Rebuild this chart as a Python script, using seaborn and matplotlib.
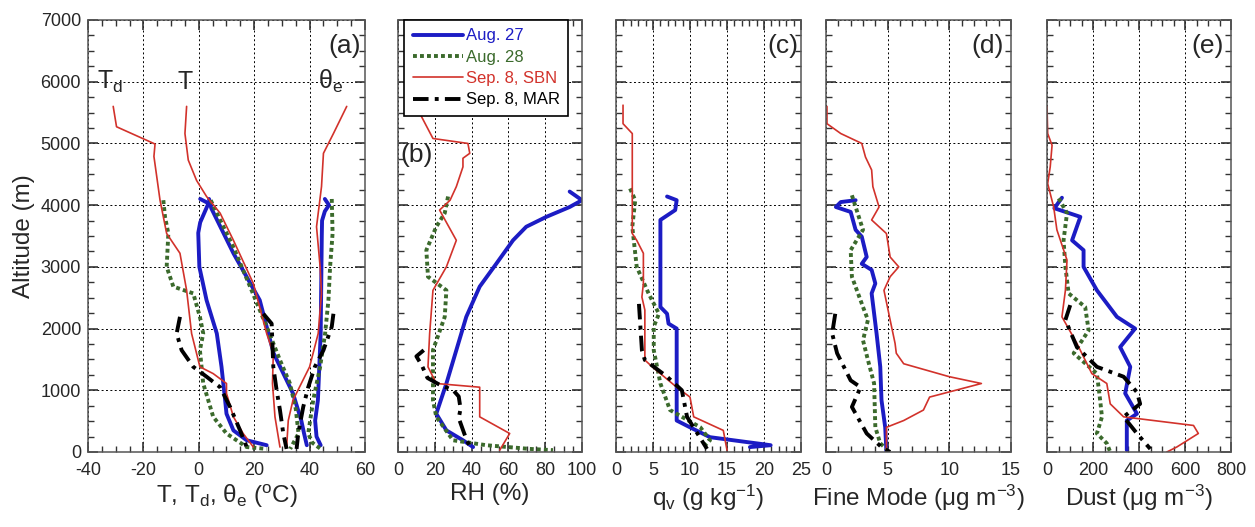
import matplotlib
matplotlib.use('Agg')
import matplotlib.pyplot as plt
import seaborn as sns
from matplotlib.ticker import MultipleLocator

# ---- data: (value, altitude) ----
# panel (a) temperatures
td_aug27 = [0.5, 3.5, 0.5, -0.2, 0.2, 2.8, 6.5, 8.2, 9.5, 10, 12.5, 17.3, 24.5]
td_aug27_alt = [4100, 4030, 3720, 3550, 3000, 2460, 1920, 1380, 840, 620, 350, 190, 110]
t_aug27 = [3.7, 4.5, 12.5, 22, 27, 34, 37, 38, 39]
t_aug27_alt = [4100, 3950, 3220, 2460, 1600, 950, 510, 300, 110]
te_aug27 = [45.5, 47, 45.5, 44.5, 44.4, 44, 43, 42, 42.5, 44]
te_aug27_alt = [4100, 4000, 3900, 3750, 3500, 1920, 840, 510, 250, 110]

td_aug28 = [-12.8, -12.2, -11, -11.6, -9.2, -2, 0.4, 1.6, 0.4, 1.6, 5.2, 10, 17.3, 24.5]
td_aug28_alt = [4080, 3810, 3540, 3000, 2680, 2570, 2190, 1920, 1650, 1110, 570, 300, 80, 50]
t_aug28 = [4.3, 7.7, 12.5, 18.5, 24.5, 29.3, 32.9, 35, 36, 33]
t_aug28_alt = [4080, 3760, 3320, 2680, 2030, 1490, 1110, 700, 300, 50]
te_aug28 = [48, 48.3, 47.4, 46.8, 45.6, 43.8, 41.3, 39.5, 41, 44]
te_aug28_alt = [4100, 3540, 3000, 2460, 1920, 1380, 840, 300, 150, 50]

td_sbn = [-30.9, -29.7, -15.8, -16.2, -14, -11.6, -6.8, -4.4, -2.6, 0.4, 5.2, 10, 10, 12.5, 16, 19.7]
td_sbn_alt = [5600, 5270, 4990, 4790, 4080, 3540, 3220, 2620, 1920, 1380, 1270, 1110, 950, 570, 300, 80]
t_sbn = [-4.4, -5, -3.8, -0.8, 2.8, 7.7, 12.5, 19.7, 24.5, 26.9, 26.6, 27.5, 29.3]
t_sbn_alt = [5600, 5160, 4730, 4400, 4140, 3870, 3430, 2730, 1920, 1600, 1110, 570, 80]
te_sbn = [53.4, 48.6, 45, 44.3, 42.5, 43.8, 44.3, 43.1, 40, 34, 32.3, 31.7]
te_sbn_alt = [5600, 5160, 4840, 4300, 3650, 3000, 2570, 1920, 1380, 840, 510, 80]

td_mar = [-6.8, -8, -6.2, -2, 2.8, 7.7, 11.3, 14.9, 17.3]
td_mar_alt = [2190, 1920, 1650, 1380, 1220, 1050, 730, 350, 80]
t_mar = [23.3, 26.3, 26.9, 28.1, 29.3, 30.5, 31.7]
t_mar_alt = [2240, 2080, 1380, 1000, 680, 300, 50]
te_mar = [48.6, 48, 45, 41.9, 39.5, 37.7, 35.9, 35.3]
te_mar_alt = [2240, 2030, 1650, 1380, 1050, 730, 300, 50]

# panel (b) RH
rh_aug27 = [93.3, 100, 93.3, 80.6, 69.7, 62.5, 53.4, 44.4, 37.1, 31.7, 26.3, 20.8, 26.3, 35.3, 40.8]
rh_aug27_alt = [4220, 4080, 3970, 3810, 3650, 3430, 3050, 2680, 2190, 1650, 1110, 620, 350, 190, 80]
rh_aug28 = [27.2, 25.4, 20.8, 15.4, 16.3, 26.3, 25.4, 19, 19, 20.8, 29.9, 48, 71.6, 84.2]
rh_aug28_alt = [4140, 3870, 3650, 3270, 2840, 2620, 2190, 1650, 840, 570, 190, 110, 50, 30]
rh_sbn = [11.8, 11.8, 19, 38, 39, 35.3, 35.3, 31.7, 28.3, 22.6, 31.7, 26.3, 19, 17.2, 16.3, 20.8,
          44.4, 44.4, 60.7, 55.3]
rh_sbn_alt = [5600, 5490, 5080, 5000, 4840, 4760, 4620, 4300, 4080, 3920, 3430, 3000, 2620, 1920,
              1380, 1110, 1050, 570, 300, 30]
rh_mar = [14, 10, 13, 16, 22, 30, 33, 34, 33, 36, 38, 40]
rh_mar_alt = [1650, 1550, 1400, 1200, 1100, 1000, 900, 700, 550, 300, 150, 50]

# panel (c) qv
qv_aug27 = [6.9, 8.2, 8, 6, 6, 6.9, 7.1, 8.2, 8.2, 10, 12.7, 20.9, 18.1]
qv_aug27_alt = [4140, 4080, 3920, 3760, 2350, 2240, 2080, 2000, 510, 400, 240, 110, 80]
qv_aug28 = [1.9, 2.6, 2.2, 2.8, 4.4, 5.8, 5.1, 5.1, 6, 7.3, 11.4, 12.7, 11.8]
qv_aug28_alt = [4270, 4080, 3650, 3000, 2570, 2240, 2030, 1650, 1110, 680, 400, 190, 80]
qv_sbn = [0.95, 0.95, 2.2, 2.2, 2.8, 3.7, 3.7, 3.5, 3.9, 3.9, 4.9, 8.2, 10, 10.5, 14.5, 15]
qv_sbn_alt = [5620, 5320, 5160, 3540, 3430, 3220, 2730, 2510, 2300, 1490, 1380, 1050, 890, 570, 350, 30]
qv_mar = [3.1, 3.5, 3.9, 6.9, 8.9, 9.6, 11, 12.3]
qv_mar_alt = [2400, 1650, 1490, 1220, 1000, 570, 300, 50]

# panel (d) fine mode
fm_aug27 = [2.4, 1.2, 0.8, 2, 2.4, 2.9, 3.3, 2.9, 3.7, 4, 3.7, 4.1, 4.4, 4.5, 4.8, 4.9]
fm_aug27_alt = [4080, 4050, 3970, 3890, 3600, 3490, 3160, 3050, 2950, 2730, 2570, 1920, 1380, 840, 400, 0]
fm_aug28 = [2.1, 3, 2, 2.1, 3, 3.4, 3, 3.4, 3.9, 4, 4.4, 4.9]
fm_aug28_alt = [4160, 3600, 3270, 2840, 2350, 2140, 1810, 1490, 1110, 400, 140, 50]
fm_sbn = [0.08, 0.08, 1.2, 2.9, 3.2, 3.7, 3.8, 4.3, 3.7, 4.9, 5.2, 5.9, 5.2, 4.7, 5.2, 5.6, 5.7,
          6.3, 10, 12.6, 8.4, 7.9, 6.3, 4.9, 4.9]
fm_sbn_alt = [5600, 5320, 5160, 5000, 4780, 4570, 4300, 3970, 3760, 3540, 3160, 3000, 2840, 2620,
              2140, 1760, 1600, 1430, 1220, 1110, 890, 680, 510, 400, 0]
fm_mar = [0.75, 0.5, 0.9, 2, 2.8, 2.1, 3.3, 4.5, 5.2]
fm_mar_alt = [2240, 1920, 1600, 1160, 1050, 730, 300, 80, 0]

# panel (e) dust
du_aug27 = [65, 32, 145, 109, 159, 159, 217, 304, 383, 318, 362, 340, 391, 347, 347]
du_aug27_alt = [4120, 3950, 3810, 3430, 3270, 3000, 2620, 2190, 2000, 1700, 1380, 950, 620, 510, 30]
du_aug28 = [51, 87, 72, 80, 94, 166, 181, 116, 217, 231, 239, 217, 260, 275]
du_aug28_alt = [4110, 3870, 3430, 3000, 2570, 2350, 1970, 1600, 1270, 840, 570, 300, 140, 0]
du_sbn = [0, 3, 22, 14, 3, 29, 43, 87, 80, 65, 130, 195, 260, 275, 333, 637, 658, 564, 521]
du_sbn_alt = [5600, 5160, 4970, 4620, 4350, 3970, 3600, 3110, 2620, 2190, 1760, 1270, 1110, 780,
              570, 430, 300, 80, 0]
du_mar = [101, 80, 130, 217, 333, 391, 405, 333, 391, 449]
du_mar_alt = [2380, 2140, 1700, 1380, 1220, 970, 780, 570, 300, 50]

case_names = ["Aug. 27", "Aug. 28", "Sep. 8, SBN", "Sep. 8, MAR"]

# line styles per flight
STYLES = {
    "Aug. 27": dict(color="#1c1cc4", linewidth=2.8, linestyle="-"),
    "Aug. 28": dict(color="#3b6a2c", linewidth=2.8, linestyle=(0, (1, 0.8))),
    "Sep. 8, SBN": dict(color="#d2322b", linewidth=1.2, linestyle="-"),
    "Sep. 8, MAR": dict(color="black", linewidth=2.8, linestyle=(0, (4, 1.6, 1, 1.6))),
}

sns.set_style("ticks")
plt.rcParams['font.family'] = ['Liberation Sans', 'DejaVu Sans']
plt.rcParams['mathtext.fontset'] = 'custom'
plt.rcParams['mathtext.rm'] = 'Liberation Sans'
plt.rcParams['mathtext.it'] = 'Liberation Sans:italic'
plt.rcParams['axes.unicode_minus'] = False

fig = plt.figure(figsize=(12.55, 5.27), dpi=100)
W, H = 1255.0, 527.0
top_px, bot_px = 20, 452
lefts = [(88, 365), (398, 582), (616, 801), (826, 1011), (1047, 1231)]
axes = [fig.add_axes([l / W, (H - bot_px) / H, (r - l) / W, (bot_px - top_px) / H]) for l, r in lefts]


def draw(ax, x, y, name, label=None):
    sns.lineplot(x=x, y=y, sort=False, estimator=None, ax=ax, label=label, legend=False,
                 **STYLES[name])


def style_axis(ax, xlim, major, minor, xlabel, letter, letter_pos):
    ax.set_xlim(*xlim)
    ax.set_ylim(0, 7000)
    ax.xaxis.set_major_locator(MultipleLocator(major))
    ax.xaxis.set_minor_locator(MultipleLocator(minor))
    ax.yaxis.set_major_locator(MultipleLocator(1000))
    ax.yaxis.set_minor_locator(MultipleLocator(250))
    ax.grid(True, which='major', color='black', linestyle=(0, (2, 2.5)), linewidth=0.7)
    ax.set_axisbelow(True)
    ax.tick_params(which='both', direction='in', top=True, right=True, bottom=True, left=True,
                   labelsize=13, color='#333333')
    ax.tick_params(which='major', length=7, width=1.2)
    ax.tick_params(which='minor', length=4, width=1.0)
    ax.tick_params(axis='x', which='major', pad=7)
    ax.tick_params(axis='y', which='major', pad=5)
    for sp in ax.spines.values():
        sp.set_color('#555555')
        sp.set_linewidth(1.1)
    ax.set_xlabel(xlabel, fontsize=17.5, labelpad=3)
    ax.set_ylabel("")
    ax.text(letter_pos[0], letter_pos[1], letter, transform=ax.transAxes,
            ha=letter_pos[2], va='center', fontsize=19)


ax = axes[0]
for name, td, tda, t, ta, te, tea in [
    ("Aug. 27", td_aug27, td_aug27_alt, t_aug27, t_aug27_alt, te_aug27, te_aug27_alt),
    ("Aug. 28", td_aug28, td_aug28_alt, t_aug28, t_aug28_alt, te_aug28, te_aug28_alt),
    ("Sep. 8, SBN", td_sbn, td_sbn_alt, t_sbn, t_sbn_alt, te_sbn, te_sbn_alt),
    ("Sep. 8, MAR", td_mar, td_mar_alt, t_mar, t_mar_alt, te_mar, te_mar_alt),
]:
    draw(ax, td, tda, name)
    draw(ax, t, ta, name)
    draw(ax, te, tea, name)
style_axis(ax, (-40, 60), 20, 5, r"T, T$_{\rm d}$, θ$_{\rm e}$ ($^{\rm o}$C)", "(a)", (0.985, 0.94, 'right'))
ax.set_ylabel("Altitude (m)", fontsize=17.5, labelpad=4)
ax.text(-32, 6000, r"T$_{\rm d}$", fontsize=18, ha='center', va='center')
ax.text(-5, 6000, "T", fontsize=18, ha='center', va='center')
ax.text(47.5, 6000, r"θ$_{\rm e}$", fontsize=18, ha='center', va='center')

ax = axes[1]
for name, x, y in zip(case_names, [rh_aug27, rh_aug28, rh_sbn, rh_mar],
                      [rh_aug27_alt, rh_aug28_alt, rh_sbn_alt, rh_mar_alt]):
    draw(ax, x, y, name, label=name)
style_axis(ax, (0, 100), 20, 5, "RH (%)", "(b)", (0.015, 0.687, 'left'))
leg = ax.legend(loc='upper left', bbox_to_anchor=(0.035, 1.0), fontsize=12, frameon=True,
                fancybox=False, framealpha=1, edgecolor='black', handlelength=3.0,
                handletextpad=0.2, labelspacing=0.38, borderpad=0.5, borderaxespad=0,
                labelcolor=[STYLES[n]["color"] for n in case_names])
leg.get_frame().set_linewidth(1.2)

ax = axes[2]
for name, x, y in zip(case_names, [qv_aug27, qv_aug28, qv_sbn, qv_mar],
                      [qv_aug27_alt, qv_aug28_alt, qv_sbn_alt, qv_mar_alt]):
    draw(ax, x, y, name)
style_axis(ax, (0, 25), 5, 1, r"q$_{\rm v}$ (g kg$^{-1}$)", "(c)", (0.985, 0.94, 'right'))

ax = axes[3]
for name, x, y in zip(case_names, [fm_aug27, fm_aug28, fm_sbn, fm_mar],
                      [fm_aug27_alt, fm_aug28_alt, fm_sbn_alt, fm_mar_alt]):
    draw(ax, x, y, name)
style_axis(ax, (0, 15), 5, 1, r"Fine Mode (μg m$^{-3}$)", "(d)", (0.96, 0.94, 'right'))

ax = axes[4]
for name, x, y in zip(case_names, [du_aug27, du_aug28, du_sbn, du_mar],
                      [du_aug27_alt, du_aug28_alt, du_sbn_alt, du_mar_alt]):
    draw(ax, x, y, name)
style_axis(ax, (0, 800), 200, 50, r"Dust (μg m$^{-3}$)", "(e)", (0.96, 0.94, 'right'))

for ax in axes[1:]:
    ax.tick_params(labelleft=False)

fig.savefig("out.png", dpi=100)
